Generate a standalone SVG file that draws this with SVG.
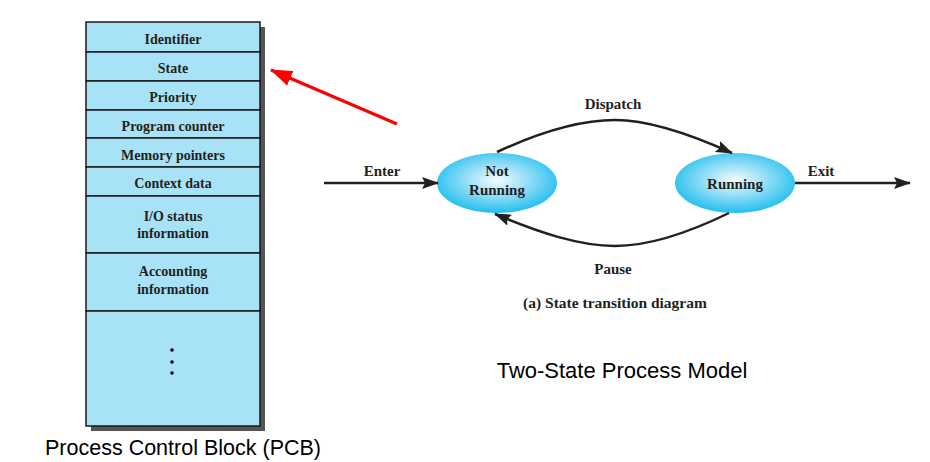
<svg xmlns="http://www.w3.org/2000/svg" width="930" height="462" viewBox="0 0 930 462">
<style>
.cell{fill:#a8e2f7;stroke:#1a1a1a;stroke-width:1.5}
.t{font-family:"Liberation Serif","Times New Roman",serif;font-weight:bold;fill:#231f20;text-anchor:middle}
.pcb{font-size:14px}
.lbl{font-size:15px}
.cap{font-size:15.5px}
.big{font-family:"Liberation Sans",Arial,sans-serif;fill:#000;text-anchor:middle}
.conn{fill:none;stroke:#231f20;stroke-width:2.5}
</style>
<defs>
<radialGradient id="g" cx="0.5" cy="0.45" r="0.55">
<stop offset="0" stop-color="#f4fcff"/>
<stop offset="0.5" stop-color="#8fdcf6"/>
<stop offset="1" stop-color="#22bfee"/>
</radialGradient>
<marker id="ahb" markerWidth="17" markerHeight="12" refX="16" refY="6" orient="auto" markerUnits="userSpaceOnUse" viewBox="0 0 17 12">
<path d="M0,0 L17,6 L0,12 L3,6 z" fill="#231f20"/>
</marker>
<marker id="ar" markerWidth="22" markerHeight="16" refX="21" refY="8" orient="auto" markerUnits="userSpaceOnUse" viewBox="0 0 22 16">
<path d="M0,0 L22,8 L0,16 z" fill="#ff0000"/>
</marker>
</defs>
<g id="pcb">
<rect x="91" y="27" width="174" height="404" fill="#555"/>
<rect class="cell" x="86" y="22" width="174" height="30"/>
<rect class="cell" x="86" y="52" width="174" height="29"/>
<rect class="cell" x="86" y="81" width="174" height="29"/>
<rect class="cell" x="86" y="110" width="174" height="28"/>
<rect class="cell" x="86" y="138" width="174" height="29"/>
<rect class="cell" x="86" y="167" width="174" height="29"/>
<rect class="cell" x="86" y="196" width="174" height="57"/>
<rect class="cell" x="86" y="253" width="174" height="58"/>
<rect class="cell" x="86" y="311" width="174" height="115"/>
<text class="t pcb" x="173" y="44">Identifier</text>
<text class="t pcb" x="173" y="73">State</text>
<text class="t pcb" x="173" y="102">Priority</text>
<text class="t pcb" x="173" y="131">Program counter</text>
<text class="t pcb" x="173" y="160">Memory pointers</text>
<text class="t pcb" x="173" y="188">Context data</text>
<text class="t pcb" x="173" y="221">I/O status</text>
<text class="t pcb" x="173" y="238">information</text>
<text class="t pcb" x="173" y="276">Accounting</text>
<text class="t pcb" x="173" y="294">information</text>
<circle cx="172" cy="350" r="1.8" fill="#000"/>
<circle cx="172" cy="362" r="1.8" fill="#000"/>
<circle cx="172" cy="373" r="1.8" fill="#000"/>
</g>
<g id="not-running">
<ellipse cx="497" cy="183" rx="60" ry="30" fill="url(#g)"/>
<text class="t lbl" x="497" y="176">Not</text>
<text class="t lbl" x="497" y="195">Running</text>
</g>
<g id="running">
<ellipse cx="735" cy="183" rx="60" ry="30" fill="url(#g)"/>
<text class="t lbl" x="735" y="189">Running</text>
</g>
<g id="connectors">
<line x1="397" y1="124" x2="271" y2="70" stroke="#ff0000" stroke-width="3" marker-end="url(#ar)"/>
<line class="conn" x1="324" y1="183" x2="438" y2="183" marker-end="url(#ahb)"/>
<line class="conn" x1="795" y1="183" x2="910" y2="183" marker-end="url(#ahb)"/>
<path class="conn" d="M497,152 C540,132 580,120 615,120 C650,120 690,134 732,153" marker-end="url(#ahb)"/>
<path class="conn" d="M729,213 C690,232 650,246 615,246 C580,246 540,233 495,214" marker-end="url(#ahb)"/>
<text class="t lbl" x="613" y="109">Dispatch</text>
<text class="t lbl" x="382" y="176">Enter</text>
<text class="t lbl" x="821" y="176">Exit</text>
<text class="t lbl" x="613" y="274">Pause</text>
</g>
<text class="t cap" x="615" y="308">(a) State transition diagram</text>
<text class="big" x="622" y="378" font-size="22">Two-State Process Model</text>
<text class="big" x="183" y="455" font-size="21.5">Process Control Block (PCB)</text>
</svg>
